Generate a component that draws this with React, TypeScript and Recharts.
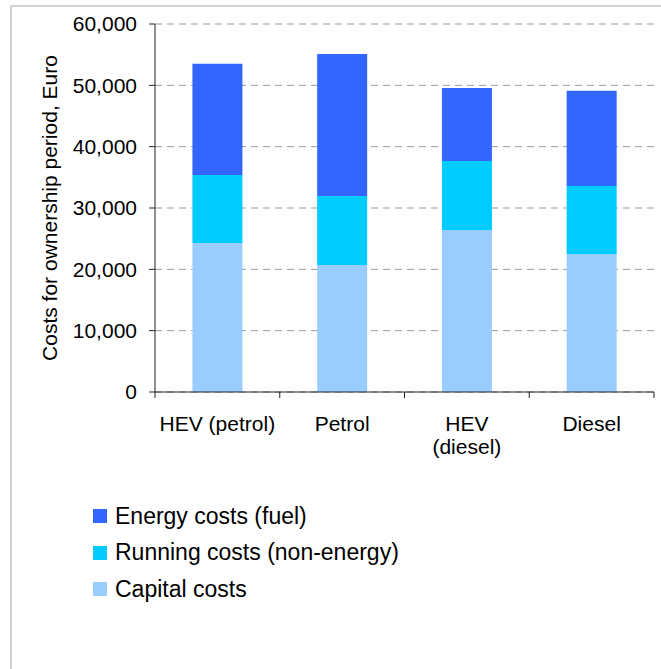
import React from 'react';
import { BarChart, Bar, XAxis, YAxis, CartesianGrid, Legend } from 'recharts';

// Vehicle types compared over the ownership period (a "\n" breaks a label onto two lines)
const categories = ['HEV (petrol)', 'Petrol', 'HEV\n(diesel)', 'Diesel'];

// Cost components, Euro
const capitalCosts = [24300, 20700, 26400, 22500];
const runningCosts = [11100, 11250, 11250, 11100];
const energyCosts = [18100, 23150, 11900, 15500];

const yTicks = [0, 10000, 20000, 30000, 40000, 50000, 60000];
const yTitle = 'Costs for ownership period, Euro';

const seriesNames = {
  capital: 'Capital costs',
  running: 'Running costs (non-energy)',
  energy: 'Energy costs (fuel)',
};

const colors = {
  capital: '#99CCFF',
  running: '#00CCFF',
  energy: '#3366FF',
};

const data = categories.map((name, i) => ({
  name,
  capital: capitalCosts[i],
  running: runningCosts[i],
  energy: energyCosts[i],
}));

const FONT = "'Liberation Sans', Arial, Helvetica, sans-serif";
const AXIS_COLOR = '#222';
const AXIS_FONT_SIZE = 21;

// Category labels centred in each band, with tick marks on the band edges
const CategoryTick = (props: any) => {
  const { x, y, payload, index, visibleTicksCount, width } = props;
  const n = visibleTicksCount ?? categories.length;
  const half =
    payload && typeof payload.offset === 'number' && payload.offset > 0
      ? payload.offset
      : width / (categories.length * 2);
  const axisY = y - 6;
  const lines = String(payload.value).split('\n');
  return (
    <g>
      <line x1={x - half} x2={x - half} y1={axisY} y2={axisY + 6} stroke={AXIS_COLOR} />
      {index === n - 1 && (
        <line x1={x + half} x2={x + half} y1={axisY} y2={axisY + 6} stroke={AXIS_COLOR} />
      )}
      <text x={x} y={axisY} textAnchor="middle" fontSize={AXIS_FONT_SIZE} fill="#000" fontFamily={FONT}>
        {lines.map((l, i) => (
          <tspan key={i} x={x} dy={i === 0 ? 39 : 23}>
            {l}
          </tspan>
        ))}
      </text>
    </g>
  );
};

const YTitle = (props: any) => {
  const vb = props.viewBox || { x: 0, y: 24, width: 155, height: 368 };
  const cx = vb.x + 57;
  const cy = vb.y + vb.height / 2;
  return (
    <text
      x={cx}
      y={cy}
      transform={`rotate(-90, ${cx}, ${cy})`}
      textAnchor="middle"
      fontSize={AXIS_FONT_SIZE}
      fill="#000"
      fontFamily={FONT}
    >
      {yTitle}
    </text>
  );
};

const legendOrder: Array<keyof typeof seriesNames> = ['energy', 'running', 'capital'];

const LegendContent = () => (
  <div style={{ fontFamily: FONT, fontSize: 23, color: '#000' }}>
    {legendOrder.map((k) => (
      <div key={k} style={{ display: 'flex', alignItems: 'center', height: 36.5 }}>
        <span
          style={{
            display: 'inline-block',
            width: 14,
            height: 14,
            background: colors[k],
            marginRight: 8,
          }}
        />
        <span style={{ whiteSpace: 'nowrap' }}>{seriesNames[k]}</span>
      </div>
    ))}
  </div>
);

export default function App() {
  return (
    <div
      style={{
        position: 'absolute',
        left: 0,
        top: 0,
        width: 661,
        height: 669,
        background: '#fff',
        overflow: 'hidden',
      }}
    >
      <div
        style={{
          position: 'absolute',
          left: 10,
          top: 5,
          width: 651,
          height: 664,
          borderTop: '2px solid #d2d2d2',
          borderLeft: '2px solid #d2d2d2',
          boxSizing: 'border-box',
        }}
      />
      <div style={{ position: 'absolute', left: 0, top: 0 }}>
        <BarChart
          width={661}
          height={669}
          data={data}
          margin={{ top: 24, right: 7, bottom: 217, left: 0 }}
          barCategoryGap="30%"
        >
          <CartesianGrid
            vertical={false}
            stroke="#999"
            strokeDasharray="7 5"
          />
          <XAxis
            dataKey="name"
            height={60}
            interval={0}
            tickLine={false}
            tickSize={6}
            tickMargin={0}
            axisLine={{ stroke: AXIS_COLOR }}
            tick={<CategoryTick />}
          />
          <YAxis
            width={155}
            domain={[0, 60000]}
            ticks={yTicks}
            interval={0}
            tickSize={6}
            tickMargin={12}
            tickFormatter={(v: number) => v.toLocaleString('en-US')}
            axisLine={{ stroke: AXIS_COLOR }}
            tickLine={{ stroke: AXIS_COLOR }}
            tick={{ fontSize: AXIS_FONT_SIZE, fill: '#000', fontFamily: FONT }}
            label={<YTitle />}
          />
          <Legend
            layout="vertical"
            align="center"
            verticalAlign="middle"
            content={<LegendContent />}
            wrapperStyle={{ position: 'absolute', left: 93, top: 498, width: 400, bottom: 'auto' }}
          />
          <Bar dataKey="capital" name={seriesNames.capital} stackId="cost" fill={colors.capital} isAnimationActive={false} />
          <Bar dataKey="running" name={seriesNames.running} stackId="cost" fill={colors.running} isAnimationActive={false} />
          <Bar dataKey="energy" name={seriesNames.energy} stackId="cost" fill={colors.energy} isAnimationActive={false} />
        </BarChart>
      </div>
    </div>
  );
}
